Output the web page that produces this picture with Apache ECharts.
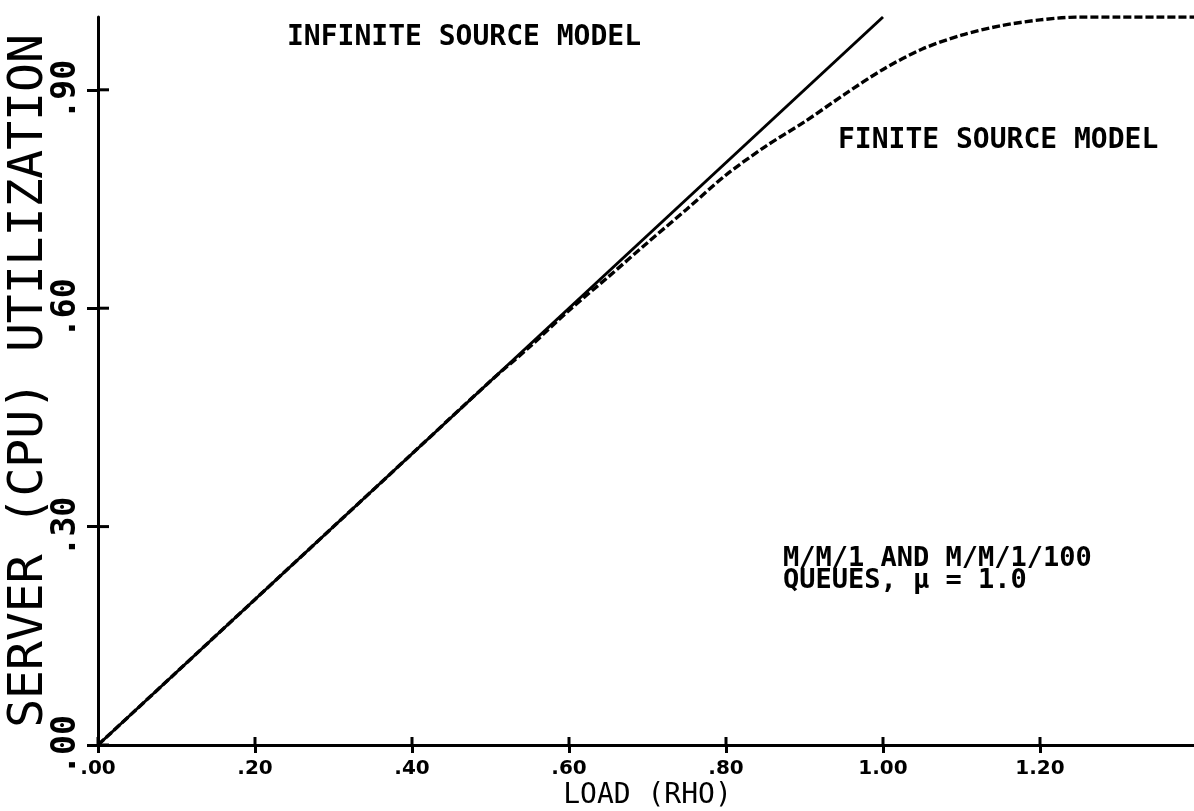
<!DOCTYPE html>
<html>
<head>
<meta charset="utf-8">
<title>Server utilization vs load</title>
<script src="https://cdn.jsdelivr.net/npm/echarts@6/dist/echarts.min.js"></script>
<style>
  html, body { margin: 0; padding: 0; background: #fff; }
  #chart { width: 1194px; height: 811px; }
</style>
</head>
<body>
<div id="chart"></div>
<script>
// Infinite source model (M/M/1): utilization equals load up to saturation
const infiniteLoad = [0, 1.0];
const infiniteUtil = [0, 1.0];

// Finite source model (M/M/1/100)
const finiteLoad = [0, 0.1, 0.2, 0.3, 0.4, 0.5, 0.55, 0.6, 0.65, 0.7, 0.75, 0.8, 0.85,
                    0.9, 0.95, 1.0, 1.05, 1.1, 1.15, 1.2, 1.25, 1.3, 1.35, 1.4];
const finiteUtil = [0, 0.1, 0.2, 0.3, 0.4, 0.5, 0.547, 0.597, 0.643, 0.69, 0.736, 0.783, 0.822,
                    0.856, 0.893, 0.928, 0.956, 0.975, 0.988, 0.996, 1.0, 1.0, 1.0, 1.0];

// Axis tick positions
const loadTicks = [0, 0.2, 0.4, 0.6, 0.8, 1.0, 1.2];
const utilTicks = [0, 0.3, 0.6, 0.9];

const MONO = '"DejaVu Sans Mono", monospace';
const X_TICK_LEN = 8, Y_TICK_LEN = 11;

function fmt(v) {
  const s = v.toFixed(2);
  return v < 1 ? s.slice(1) : s;
}

function pairs(xs, ys) {
  return xs.map((x, i) => [x, ys[i]]);
}

// Inner half of a crossing tick mark: dx/dy give its direction from the axis
function innerTick(dx, dy) {
  return function (params, api) {
    const p = api.coord([api.value(0), api.value(1)]);
    return {
      type: 'line',
      shape: { x1: p[0], y1: p[1], x2: p[0] + dx, y2: p[1] + dy },
      style: { stroke: '#000', lineWidth: 3 }
    };
  };
}

const chart = echarts.init(document.getElementById('chart'), null, { renderer: 'canvas' });

chart.setOption({
  backgroundColor: '#ffffff',
  animation: false,
  grid: {
    left: 98, right: -3, top: 17, bottom: 66,
    outerBoundsMode: 'none', containLabel: false
  },
  xAxis: {
    type: 'value', min: 0, max: 1.4,
    name: 'LOAD (RHO)', nameLocation: 'middle', nameGap: 37, nameMoveOverlap: false,
    nameTextStyle: { fontFamily: MONO, fontSize: 28, color: '#000' },
    axisLine: { show: true, onZero: false, lineStyle: { color: '#000', width: 3 } },
    axisTick: { show: true, length: X_TICK_LEN, customValues: loadTicks, lineStyle: { color: '#000', width: 3 } },
    axisLabel: {
      customValues: loadTicks, formatter: fmt, margin: 14,
      fontFamily: '"DejaVu Sans", sans-serif', fontWeight: 'bold', fontSize: 20, color: '#000'
    },
    splitLine: { show: false }
  },
  yAxis: {
    type: 'value', min: 0, max: 1.0,
    name: 'SERVER (CPU) UTILIZATION', nameLocation: 'middle', nameGap: 44, nameRotate: 90,
    nameMoveOverlap: false,
    nameTextStyle: { fontFamily: MONO, fontSize: 48, color: '#000' },
    axisLine: { show: true, onZero: false, lineStyle: { color: '#000', width: 3 } },
    axisTick: { show: true, length: Y_TICK_LEN, customValues: utilTicks, lineStyle: { color: '#000', width: 3 } },
    axisLabel: {
      customValues: utilTicks, formatter: fmt, rotate: 90, margin: 15,
      fontFamily: MONO, fontWeight: 'bold', fontSize: 33, color: '#000'
    },
    splitLine: { show: false }
  },
  series: [
    {
      name: 'Infinite source model',
      type: 'line',
      data: pairs(infiniteLoad, infiniteUtil),
      symbol: 'none', silent: true,
      lineStyle: { color: '#000', width: 3 }
    },
    {
      name: 'Finite source model',
      type: 'line',
      data: pairs(finiteLoad, finiteUtil),
      symbol: 'none', silent: true, smooth: 0.3,
      lineStyle: { color: '#000', width: 3.4, type: [8, 3] }
    },
    {
      name: 'load ticks (inner)',
      type: 'custom', silent: true, clip: false, z: 5,
      data: loadTicks.map(v => [v, 0]),
      renderItem: innerTick(0, -X_TICK_LEN)
    },
    {
      name: 'utilization ticks (inner)',
      type: 'custom', silent: true, clip: false, z: 5,
      data: utilTicks.map(v => [0, v]),
      renderItem: innerTick(Y_TICK_LEN, 0)
    }
  ],
  graphic: [
    {
      type: 'text', left: 287, top: 24,
      style: { text: 'INFINITE SOURCE MODEL', font: 'bold 28px ' + MONO, fill: '#000' }
    },
    {
      type: 'text', left: 838, top: 127,
      style: { text: 'FINITE SOURCE MODEL', font: 'bold 28px ' + MONO, fill: '#000' }
    },
    {
      type: 'text', left: 783, top: 545,
      style: {
        text: 'M/M/1 AND M/M/1/100\nQUEUES, \u03bc = 1.0',
        font: 'bold 27px ' + MONO, lineHeight: 22, fill: '#000'
      }
    }
  ]
});
</script>
</body>
</html>
